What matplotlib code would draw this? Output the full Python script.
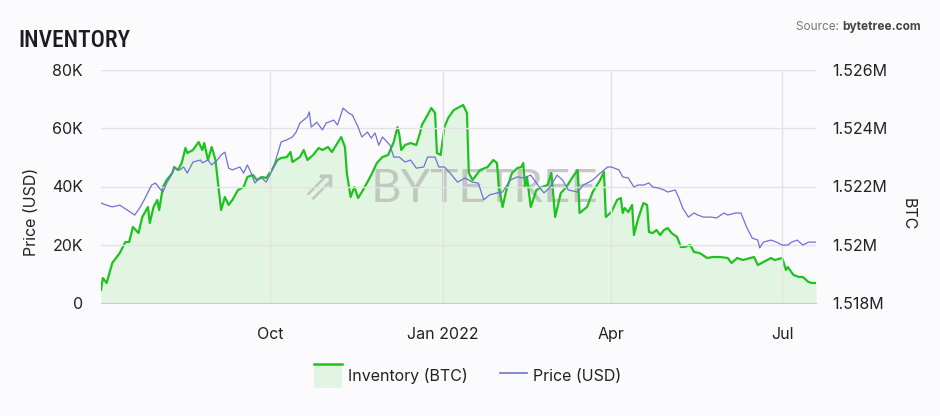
import numpy as np
import pandas as pd
import matplotlib
matplotlib.use('Agg')
import matplotlib.pyplot as plt
import matplotlib.ticker as mticker
from matplotlib.patches import Rectangle
from matplotlib.lines import Line2D
from matplotlib.legend_handler import HandlerPatch
from matplotlib import font_manager

# data: day offsets from the first date, values
START = pd.Timestamp('2021-07-03')

price_days = [0, 3, 6, 10, 14, 18, 21, 23, 27, 29, 31, 33, 35, 37, 39, 42, 44, 46, 49, 53,
              54, 57, 59, 62, 64, 66, 68, 70, 74, 76, 78, 80, 82, 85, 88, 90, 92, 96, 99, 102,
              104, 106, 110, 111, 112, 115, 118, 120, 124, 126, 129, 132, 134, 137, 139, 142, 144, 146, 148, 150,
              154, 156, 159, 162, 165, 168, 172, 174, 178, 180, 183, 186, 190, 194, 198, 201, 204, 207, 211, 214,
              218, 222, 225, 229, 232, 236, 239, 243, 246, 249, 254, 257, 262, 266, 270, 272, 276, 278, 281, 284,
              286, 289, 292, 294, 297, 300, 302, 306, 308, 310, 313, 316, 318, 321, 325, 328, 332, 334, 338, 341,
              344, 347, 350, 351, 353, 357, 360, 363, 366, 368, 371, 374, 377, 381]
price_usd = [34.3, 33.6, 33.0, 33.6, 31.9, 30.2, 33.0, 35.4, 40.5, 41.2, 39.5, 38.1, 41.2, 43.3, 46.3, 45.7, 46.7, 44.6, 48.4, 49.1,
             48.1, 49.1, 47.4, 49.1, 50.8, 51.8, 46.3, 45.7, 46.7, 44.6, 47.4, 44.6, 41.2, 43.3, 41.5, 43.9, 46.7, 55.3, 56.0, 57.0,
             58.7, 61.8, 63.9, 65.6, 60.4, 62.1, 59.4, 61.8, 62.8, 61.1, 66.9, 65.2, 64.5, 60.4, 57.0, 58.7, 56.6, 58.4, 54.2, 57.0,
             54.2, 50.1, 50.1, 48.4, 49.1, 46.3, 46.7, 50.1, 50.1, 46.7, 46.7, 44.6, 41.5, 42.9, 41.5, 41.2, 35.4, 37.1, 37.8, 38.1,
             42.2, 43.3, 42.9, 43.9, 41.2, 37.8, 39.5, 43.9, 42.2, 38.8, 38.1, 40.5, 42.2, 44.6, 46.7, 46.7, 45.7, 43.3, 42.9, 39.8,
             40.5, 40.5, 41.2, 39.8, 39.5, 38.8, 38.1, 38.8, 36.0, 32.6, 29.5, 30.9, 30.2, 29.5, 29.5, 29.2, 30.9, 30.2, 30.9, 30.9,
             26.1, 22.3, 21.6, 18.9, 20.9, 21.6, 20.9, 19.9, 19.9, 20.9, 21.6, 19.9, 20.9, 20.9]
price_usd = [p * 1000 for p in price_usd]

inv_days = [0, 1, 3, 6, 10, 13, 15, 17, 20, 22, 25, 26, 28, 30, 31, 33, 35, 38, 39, 41,
            43, 45, 46, 49, 52, 54, 55, 57, 59, 61, 62, 64, 66, 68, 70, 73, 76, 78, 81, 83,
            86, 88, 91, 94, 96, 99, 101, 102, 106, 108, 110, 113, 116, 118, 121, 123, 126, 128, 130, 131,
            133, 135, 137, 139, 142, 144, 147, 150, 153, 156, 158, 159, 160, 162, 165, 168, 170, 171, 174, 176,
            178, 179, 181, 183, 185, 188, 190, 193, 195, 196, 198, 200, 202, 206, 209, 211, 212, 214, 216, 219,
            222, 224, 225, 226, 227, 229, 232, 235, 238, 240, 242, 245, 248, 251, 254, 255, 259, 262, 266, 268,
            269, 272, 275, 277, 278, 279, 281, 283, 284, 286, 289, 291, 292, 294, 296, 298, 300, 302, 304, 307,
            309, 311, 314, 316, 319, 323, 326, 330, 334, 336, 339, 342, 348, 350, 353, 357, 359, 363, 365, 366,
            369, 372, 374, 377, 379, 381]
inv_btc = [1518446, 1518858, 1518686, 1519373, 1519717, 1520094, 1520094, 1520609, 1520403, 1520953,
           1521296, 1520747, 1521296, 1521536, 1521193, 1521983, 1522223, 1522463, 1522669, 1522566,
           1522807, 1523322, 1523150, 1523253, 1523528, 1523253, 1523493, 1522910, 1523356, 1522910,
           1522326, 1521193, 1521640, 1521365, 1521536, 1521880, 1521983, 1522326, 1522395, 1522223,
           1522326, 1522292, 1522566, 1522910, 1522978, 1523013, 1523184, 1522841, 1523013, 1523253,
           1522910, 1523081, 1523322, 1523253, 1523356, 1523184, 1523493, 1523699, 1523356, 1522463,
           1521640, 1521983, 1521605, 1521811, 1522154, 1522395, 1522807, 1523013, 1523081, 1523528,
           1524043, 1523768, 1523253, 1523425, 1523493, 1523425, 1523837, 1524111, 1524455, 1524695,
           1524524, 1523150, 1523081, 1524043, 1524352, 1524627, 1524695, 1524798, 1524524, 1522463,
           1522223, 1522395, 1522566, 1522669, 1522910, 1522807, 1521983, 1521296, 1521880, 1522463,
           1522635, 1522669, 1522807, 1521983, 1522326, 1521296, 1521880, 1521983, 1522051, 1522463,
           1520953, 1521776, 1521983, 1522292, 1522566, 1521090, 1521296, 1521811, 1522223, 1522498,
           1520953, 1521124, 1521536, 1521605, 1521090, 1521261, 1521124, 1521365, 1520335, 1520850,
           1521433, 1521365, 1520437, 1520403, 1520506, 1520335, 1520506, 1520575, 1520403, 1520266,
           1519923, 1519923, 1519991, 1519751, 1519717, 1519545, 1519579, 1519579, 1519545, 1519373,
           1519545, 1519476, 1519579, 1519304, 1519407, 1519545, 1519476, 1519545, 1519133, 1519236,
           1518961, 1518892, 1518892, 1518721, 1518687, 1518687]

x_ticks = ['2021-10-01', '2022-01-01', '2022-04-01', '2022-07-01']
x_tick_labels = ['Oct', 'Jan 2022', 'Apr', 'Jul']

GREEN = '#1ec21e'
GREEN_FILL = '#e2f5e2'
BLUE = '#7070d8'
BG = '#fbfbfd'
GRID = '#e3e3e6'
TEXT = '#222222'
MARK = '#b9bbb9'

plt.rcParams['font.family'] = ['Inter', 'DejaVu Sans']

# pick a narrow face for the title if one is installed
names = {f.name for f in font_manager.fontManager.ttflist}
title_family = ['DejaVu Sans']
for cand in ['Liberation Sans Narrow', 'DejaVu Sans Condensed', 'Roboto Condensed']:
    if cand in names:
        title_family = [cand, 'DejaVu Sans']
        break

price_dates = START + pd.to_timedelta(price_days, unit='D')
inv_dates = START + pd.to_timedelta(inv_days, unit='D')

fig = plt.figure(figsize=(9.4, 4.16), dpi=100, facecolor=BG)
ax = fig.add_axes([101 / 940, 113 / 416, 715 / 940, 233 / 416])
ax2 = ax.twinx()
ax.set_zorder(ax2.get_zorder() + 1)
ax.patch.set_visible(False)
ax2.set_facecolor(BG)

# inventory on the right axis
ax2.fill_between(inv_dates, inv_btc, 1.518e6, color=GREEN_FILL, lw=0, zorder=1)
ax2.plot(inv_dates, inv_btc, color=GREEN, lw=1.6, zorder=3)
ax2.set_ylim(1.518e6, 1.526e6)
ax2.yaxis.set_major_locator(mticker.MultipleLocator(2000))
ax2.yaxis.set_major_formatter(mticker.FuncFormatter(lambda v, p: '{:g}M'.format(round(v / 1e6, 3))))

# watermark
ax2.text(0.306, 0.50, '\u21d7', transform=ax2.transAxes, ha='center', va='center',
         fontsize=30, color=MARK, alpha=0.8, zorder=2, family='DejaVu Sans')
ax2.text(0.536, 0.49, 'BYTETREE', transform=ax2.transAxes, ha='center', va='center',
         fontsize=34, color=MARK, alpha=0.8, zorder=2, family=['Lato', 'DejaVu Sans'])

# price on the left axis
ax.plot(price_dates, price_usd, color=BLUE, lw=0.9, zorder=4)
ax.set_ylim(0, 80000)
ax.yaxis.set_major_locator(mticker.MultipleLocator(20000))
ax.yaxis.set_major_formatter(mticker.FuncFormatter(lambda v, p: '0' if v == 0 else '{:g}K'.format(v / 1000)))

ax.set_xlim(START, START + pd.Timedelta(days=381))
ax.set_xticks(pd.to_datetime(x_ticks))
ax.set_xticklabels(x_tick_labels)

ax.grid(True, color=GRID, lw=1.0, zorder=0)
for a in (ax, ax2):
    for s in a.spines.values():
        s.set_visible(False)
    a.tick_params(length=0, labelsize=11.5, labelcolor=TEXT)
ax.spines['bottom'].set_visible(True)
ax.spines['bottom'].set_color('#cccccc')
ax.tick_params(axis='y', pad=13)
ax2.tick_params(axis='y', pad=12)
ax.tick_params(axis='x', pad=17)

fig.text(32 / 940, 1 - 212 / 416, 'Price (USD)', rotation=90, ha='center', va='center',
         fontsize=11.5, color=TEXT)
fig.text(908 / 940, 1 - 214 / 416, 'BTC', rotation=270, ha='center', va='center',
         fontsize=11.5, color=TEXT)

# title and source
title = fig.text(18 / 940, 1 - 47 / 416, 'INVENTORY', ha='left', va='baseline', fontsize=19,
                 color='#1c1c22', family=title_family, fontstretch='condensed',
                 fontweight='medium')
src_bold = fig.text(921 / 940, 1 - 30 / 416, 'bytetree.com', ha='right', va='baseline',
                    fontsize=8.5, color='#444444', fontweight='bold')
fig.canvas.draw()
# keep the title as wide as in the reference (about 110 px)
tw = title.get_window_extent().width
if tw > 118:
    title.set_fontsize(19 * 112 / tw)
bb = src_bold.get_window_extent()
fig.text(bb.x0 / 940, 1 - 30 / 416, 'Source: ', ha='right', va='baseline',
         fontsize=8.5, color='#777777')


class AreaHandler(HandlerPatch):
    def create_artists(self, legend, orig_handle, xdescent, ydescent, width, height, fontsize, trans):
        r = Rectangle((-xdescent, -ydescent), width, height, facecolor=GREEN_FILL,
                      edgecolor='none', transform=trans)
        l = Line2D([-xdescent, -xdescent + width], [-ydescent + height] * 2,
                   color=GREEN, lw=1.8, transform=trans)
        return [r, l]


area_handle = Rectangle((0, 0), 1, 1)
line_handle = Line2D([], [], color=BLUE, lw=1.2)
fig.legend([area_handle, line_handle], ['Inventory (BTC)', 'Price (USD)'],
           handler_map={Rectangle: AreaHandler()}, loc='center',
           bbox_to_anchor=(468 / 940, 1 - 376 / 416), ncol=2, frameon=False,
           fontsize=11.5, handlelength=1.7, handleheight=1.9, handletextpad=0.4,
           columnspacing=2.0, labelcolor=TEXT)

fig.savefig('out.png', dpi=100, facecolor=BG)
